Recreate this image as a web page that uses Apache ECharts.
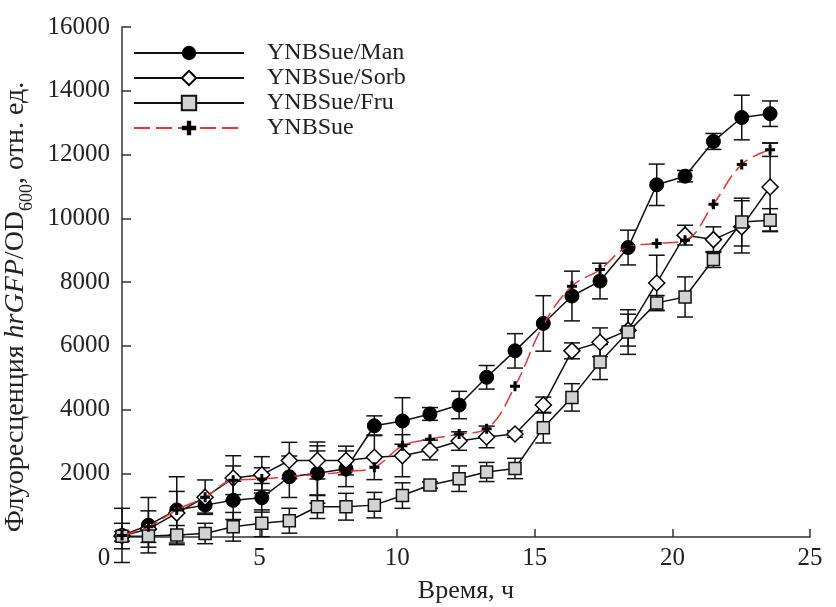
<!DOCTYPE html>
<html><head><meta charset="utf-8">
<script src="https://cdn.jsdelivr.net/npm/echarts@6/dist/echarts.min.js"></script>
<style>html,body{margin:0;padding:0;background:#fff}#c{width:836px;height:607px}</style>
</head><body><div id="c"></div>
<script>
var time = [0, 0.96, 1.99, 3.02, 4.04, 5.08, 6.08, 7.10, 8.14, 9.17, 10.19, 11.19, 12.25, 13.25, 14.28, 15.31, 16.35, 17.37, 18.39, 19.43, 20.46, 21.49, 22.52, 23.55];
var seriesNames = ['YNBSue/Man', 'YNBSue/Sorb', 'YNBSue/Fru', 'YNBSue'];
var man  = [50, 370, 850, 1000, 1150, 1230, 1890, 2000, 2140, 3490, 3640, 3860, 4140, 5010, 5840, 6700, 7560, 8030, 9080, 11050, 11320, 12410, 13160, 13280];
var sorb = [30, 250, 750, 1250, 1850, 1950, 2400, 2400, 2400, 2500, 2550, 2730, 3010, 3140, 3230, 4140, 5840, 6110, 6490, 7970, 9470, 9330, 9730, 10980];
var fru  = [20, 30, 60, 110, 320, 430, 510, 950, 950, 1000, 1300, 1630, 1830, 2040, 2150, 3430, 4380, 5490, 6430, 7345, 7530, 8705, 9880, 9940];
var ynb  = [50, 320, 850, 1250, 1780, 1820, 1900, 1960, 2050, 2190, 2860, 3070, 3230, 3400, 4730, 6650, 7870, 8390, 9100, 9210, 9310, 10440, 11690, 12150];
var manErr  = [850, 870, 1040, 250, 600, 450, 650, 700, 560, 310, 730, 200, 430, 370, 540, 870, 780, 560, 545, 650, 180, 250, 700, 400];
var sorbErr = [400, 570, 680, 540, 700, 570, 570, 580, 450, 700, 660, 310, 290, 340, 100, 250, 250, 450, 500, 870, 310, 400, 820, 1380];
var fruErr  = [150, 200, 300, 320, 450, 420, 390, 370, 420, 400, 400, 100, 400, 300, 320, 480, 430, 550, 700, 230, 630, 250, 750, 360];
var ynbErr  = [0, 0, 0, 0, 450, 350, 0, 900, 0, 0, 0, 0, 0, 0, 0, 0, 0, 0, 0, 0, 0, 0, 0, 210];
var xTicks = [0, 5, 10, 15, 20, 25];
var yTicks = [0, 2000, 4000, 6000, 8000, 10000, 12000, 14000, 16000];

var FONT = '"Liberation Serif", "DejaVu Serif", serif';
function pts(v){ return time.map(function(t,i){ return [t, v[i]]; }); }
function errData(v, e){ var r=[]; time.forEach(function(t,i){ if(e[i]>0) r.push([t, v[i], e[i]]); }); return r; }
function errSeries(v, e){
  return {
    type: 'custom', z: 1, clip: false, silent: true,
    data: errData(v, e),
    encode: {x: 0, y: 1},
    renderItem: function(params, api){
      var t = api.value(0), y = api.value(1), er = api.value(2);
      var top = api.coord([t, y + er]), bot = api.coord([t, y - er]);
      var w = 8;
      var st = {stroke: '#111', lineWidth: 1.5};
      return {type: 'group', children: [
        {type: 'line', shape: {x1: top[0], y1: top[1], x2: bot[0], y2: bot[1]}, style: st},
        {type: 'line', shape: {x1: top[0]-w, y1: top[1], x2: top[0]+w, y2: top[1]}, style: st},
        {type: 'line', shape: {x1: bot[0]-w, y1: bot[1], x2: bot[0]+w, y2: bot[1]}, style: st}
      ]};
    }
  };
}
var plusPath = 'path://M3.5,0h3v3.5h3.5v3h-3.5v3.5h-3v-3.5h-3.5v-3h3.5z';
var chart = echarts.init(document.getElementById('c'), null, {renderer: 'canvas'});
chart.setOption({
  animation: false,
  backgroundColor: '#fff',
  grid: {left: 122, right: 26, top: 27, bottom: 70, containLabel: false, outerBoundsMode: 'none'},
  legend: {
    orient: 'vertical', left: 133, top: 41, padding: 0,
    itemWidth: 110, itemHeight: 18, itemGap: 1,
    data: seriesNames,
    textStyle: {fontFamily: FONT, fontSize: 24, color: '#222', padding: [0, 0, 0, 18]}
  },
  xAxis: {
    type: 'value', min: 0, max: 25, interval: 5,
    name: 'Время, ч', nameLocation: 'middle', nameGap: 41,
    nameTextStyle: {fontFamily: FONT, fontSize: 26, color: '#222'},
    axisLine: {lineStyle: {color: '#333', width: 1.5}},
    axisTick: {inside: true, length: 8, lineStyle: {color: '#333', width: 1.5}},
    splitLine: {show: false},
    axisLabel: {fontFamily: FONT, fontSize: 25, color: '#222', margin: 9,
      formatter: function(v){ return v === xTicks[0] ? '{z|' + v + '}' : String(v); },
      rich: {z: {fontFamily: FONT, fontSize: 25, color: '#222', padding: [0, 36, 0, 0]}}}
  },
  yAxis: {
    type: 'value', min: yTicks[0], max: yTicks[yTicks.length-1], interval: 2000,
    name: '{a|Флуоресценция }{i|hrGFP}{a|/OD}{s|600}{a|, отн. ед.}',
    nameLocation: 'middle', nameGap: 70, nameRotate: 90,
    nameTextStyle: {fontFamily: FONT, fontSize: 28, color: '#222', padding: [0, 50, 0, 0],
      rich: {
        a: {fontFamily: FONT, fontSize: 28, color: '#222', lineHeight: 32, verticalAlign: 'bottom'},
        i: {fontFamily: FONT, fontSize: 28, color: '#222', fontStyle: 'italic', lineHeight: 32, verticalAlign: 'bottom'},
        s: {fontFamily: FONT, fontSize: 18, color: '#222', lineHeight: 32, verticalAlign: 'bottom', padding: [0, 0, -7, 0]}
      }},
    axisLine: {show: true, lineStyle: {color: '#333', width: 1.5}},
    axisTick: {show: true, inside: true, length: 9, lineStyle: {color: '#333', width: 1.5}},
    splitLine: {show: false},
    axisLabel: {fontFamily: FONT, fontSize: 25, color: '#222', margin: 12, showMinLabel: false,
      formatter: function(v){ return String(v); }}
  },
  series: [
    errSeries(man, manErr), errSeries(sorb, sorbErr), errSeries(fru, fruErr), errSeries(ynb, ynbErr),
    {name: seriesNames[0], type: 'line', z: 3, data: pts(man), symbol: 'circle', symbolSize: 14,
     lineStyle: {color: '#111', width: 1.5}, itemStyle: {color: '#000', borderColor: '#000'}},
    {name: seriesNames[1], type: 'line', z: 3, data: pts(sorb), symbol: 'diamond', symbolSize: 16,
     lineStyle: {color: '#111', width: 1.5}, itemStyle: {color: '#fff', borderColor: '#000', borderWidth: 1.5}},
    {name: seriesNames[2], type: 'line', z: 3, data: pts(fru), symbol: 'rect', symbolSize: 12,
     lineStyle: {color: '#111', width: 1.5}, itemStyle: {color: '#d2d2d2', borderColor: '#111', borderWidth: 1.5}},
    {name: seriesNames[3], type: 'line', z: 4, data: pts(ynb), symbol: plusPath, symbolSize: 10, smooth: 0.4,
     lineStyle: {color: '#e8352d', width: 1.5, type: [16, 6]}, itemStyle: {color: '#000', borderWidth: 0}}
  ]
});
</script></body></html>
